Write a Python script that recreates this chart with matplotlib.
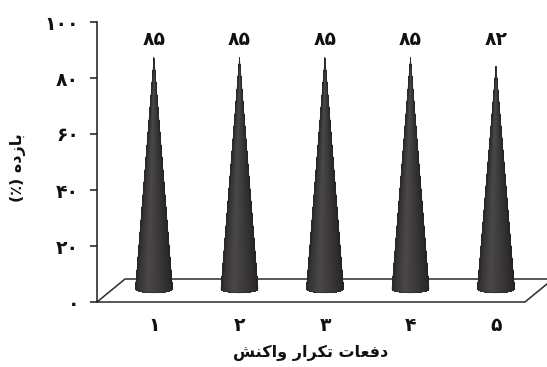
import numpy as np
import matplotlib
matplotlib.use("Agg")
import matplotlib.pyplot as plt
from matplotlib.collections import PolyCollection
from matplotlib.colors import to_rgb

# ---------------- data ----------------
runs = [1, 2, 3, 4, 5]
yields = [85, 85, 85, 85, 82]
x_labels = ["۱", "۲", "۳", "۴", "۵"]
value_labels = ["۸۵", "۸۵", "۸۵", "۸۵", "۸۲"]
y_ticks = [0, 20, 40, 60, 80, 100]
y_tick_labels = ["۰", "۲۰", "۴۰", "۶۰", "۸۰", "۱۰۰"]
x_title = "دفعات تکرار واکنش"
y_title = "بازده (٪)"

# ------------- simple Arabic-script shaping (matplotlib has no RTL layout) -------------
FORMS = {
    "ا": ("\uFE8D", "\uFE8E", None, None),
    "ب": ("\uFE8F", "\uFE90", "\uFE91", "\uFE92"),
    "ت": ("\uFE95", "\uFE96", "\uFE97", "\uFE98"),
    "د": ("\uFEA9", "\uFEAA", None, None),
    "ر": ("\uFEAD", "\uFEAE", None, None),
    "ز": ("\uFEAF", "\uFEB0", None, None),
    "ش": ("\uFEB5", "\uFEB6", "\uFEB7", "\uFEB8"),
    "ع": ("\uFEC9", "\uFECA", "\uFECB", "\uFECC"),
    "ف": ("\uFED1", "\uFED2", "\uFED3", "\uFED4"),
    "ن": ("\uFEE5", "\uFEE6", "\uFEE7", "\uFEE8"),
    "ه": ("\uFEE9", "\uFEEA", "\uFEEB", "\uFEEC"),
    "و": ("\uFEED", "\uFEEE", None, None),
    "ک": ("\uFB8E", "\uFB8F", "\uFB90", "\uFB91"),
}


def shape_rtl(s):
    out = []
    for k, ch in enumerate(s):
        if ch not in FORMS:
            out.append(ch)
            continue
        prev = s[k - 1] if k > 0 else ""
        nxt = s[k + 1] if k + 1 < len(s) else ""
        f = FORMS[ch]
        jp = prev in FORMS and FORMS[prev][2] is not None
        jn = f[2] is not None and nxt in FORMS
        if jp and jn:
            g = f[3]
        elif jp:
            g = f[1]
        elif jn:
            g = f[2]
        else:
            g = f[0]
        out.append(g)
    vis = "".join(reversed(out))
    return vis.translate(str.maketrans("()", ")("))


plt.rcParams["font.family"] = ["DejaVu Sans"]
FONT = dict(fontsize=13.5, fontweight="bold", color="#111111")
TFONT = dict(fontsize=11.5, fontweight="bold", color="#111111")

W, H = 547, 367
fig = plt.figure(figsize=(W / 100, H / 100), dpi=100)
fig.patch.set_facecolor("white")

# axes box in pixels: y-axis line at x=97, value 0 at y=302, 100 at y=22
ax_left, ax_bottom_px, ax_top_px = 97, 302, 22
ax = fig.add_axes([ax_left / W, (H - ax_bottom_px) / H, (W - ax_left) / W,
                   (ax_bottom_px - ax_top_px) / H])
px_per_x = 85.5
px_per_y = (ax_bottom_px - ax_top_px) / 100.0
x0 = runs[0] - (154 - ax_left) / px_per_x
ax.set_xlim(x0, x0 + (W - ax_left) / px_per_x)
ax.set_ylim(0, 100)
ax.set_facecolor("none")

# ---------- floor (3-D base plane) ----------
depth_dx = 28 / px_per_x
depth_dy = 23 / px_per_y
floor_right = x0 + (525 - ax_left) / px_per_x
floor = [(x0, 0), (floor_right, 0), (floor_right + depth_dx, depth_dy),
         (x0 + depth_dx, depth_dy)]
ax.add_patch(plt.Polygon(floor, closed=True, facecolor="white",
                         edgecolor="#2a2a2a", linewidth=1.1, clip_on=False,
                         zorder=1))

# ---------- cones ----------
base_y = depth_dy / 2 + 0.6
r = 18.5 / px_per_x
e = 4.0 / px_per_y
height_scale = 0.97

stops_u = [-1.0, -0.85, -0.35, 0.3, 0.85, 1.0]
stops_c = ["#2a2828", "#363434", "#4a4747", "#3a3838", "#2b2929", "#1f1e1e"]
stops_rgb = np.array([to_rgb(c) for c in stops_c])


def shade(u):
    return [np.interp(u, stops_u, stops_rgb[:, k]) for k in range(3)]


n = 120
th = np.linspace(0, np.pi, n + 1)
for xi, v in zip(runs, yields):
    apex = (xi, base_y + v * height_scale)
    polys, cols = [], []
    for k in range(n):
        a, b = th[k], th[k + 1]
        pa = (xi + r * np.cos(a), base_y - e * np.sin(a))
        pb = (xi + r * np.cos(b), base_y - e * np.sin(b))
        polys.append([apex, pa, pb])
        cols.append(shade(np.cos(0.5 * (a + b))))
    pc = PolyCollection(polys, facecolors=cols, edgecolors="none",
                        antialiased=False, zorder=3, clip_on=False)
    ax.add_collection(pc)
    # smooth outline
    outline = [apex] + [(xi + r * np.cos(t), base_y - e * np.sin(t))
                        for t in th] + [apex]
    ax.add_patch(plt.Polygon(outline, closed=True, facecolor="none",
                             edgecolor="#2a2828", linewidth=0.4, zorder=4,
                             clip_on=False))

# ---------- value labels ----------
label_y = (ax_bottom_px - 40) / px_per_y
for xi, lab in zip(runs, value_labels):
    ax.text(xi, label_y, lab, ha="center", va="center", **FONT)

# ---------- axes styling ----------
for s in ["top", "right", "bottom"]:
    ax.spines[s].set_visible(False)
ax.spines["left"].set_linewidth(1.1)
ax.spines["left"].set_color("#1a1a1a")
ax.set_yticks(y_ticks)
ax.set_yticklabels(y_tick_labels, **FONT)
ax.tick_params(axis="y", direction="out", length=5, width=1.1,
               color="#1a1a1a", pad=8)
ax.set_xticks(runs)
ax.set_xticklabels(x_labels, **FONT)
ax.tick_params(axis="x", length=0, pad=10)

fig.text(311 / W, 1 - 353 / H, shape_rtl(x_title), ha="center", va="center",
         **TFONT)
fig.text(18 / W, 1 - 168 / H, shape_rtl(y_title), ha="center", va="center",
         rotation=90, **TFONT)

fig.savefig("out.png", dpi=100, facecolor="white")
